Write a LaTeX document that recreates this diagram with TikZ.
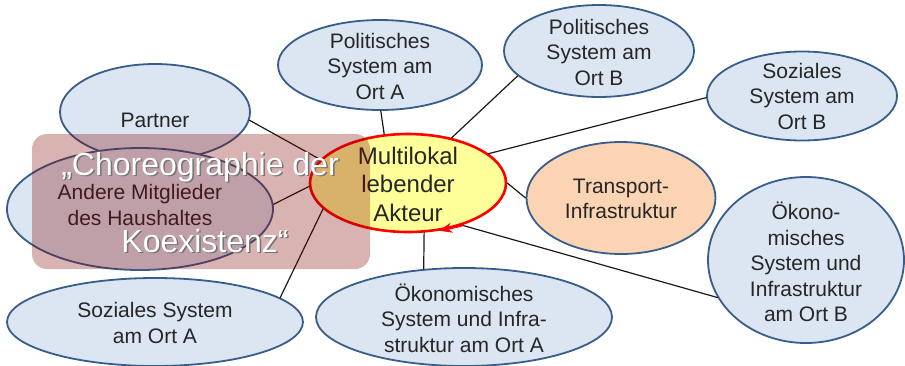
\documentclass[tikz,border=0pt]{standalone}
\usepackage{fontspec}
\setmainfont{Liberation Sans}
\usetikzlibrary{shapes.geometric,arrows.meta}
\definecolor{bubfill}{RGB}{220,230,242}
\definecolor{bubline}{RGB}{56,93,138}
\definecolor{peach}{RGB}{251,212,180}
\definecolor{akteurfill}{RGB}{255,255,153}
\definecolor{veil}{RGB}{128,0,0}
\definecolor{txtgray}{RGB}{38,38,38}
\begin{document}
\begin{tikzpicture}[x=1pt,y=-1pt,line join=round,line cap=round,
    bub/.style={ellipse,draw=bubline,line width=1.8pt,fill=bubfill,inner sep=0pt},
    txt/.style={align=center,text=txtgray,font=\fontsize{21}{25.5}\selectfont},
    link/.style={black!90,line width=1.2pt},
    big/.style={anchor=base,font=\fontsize{32}{38}\selectfont}]
    \useasboundingbox (0,0) rectangle (905,365);
    % Ellipsen
    \node[bub,minimum width=190pt,minimum height=96pt] (partner) at (155,112) {};
    \node[bub,minimum width=266pt,minimum height=122pt] (andere) at (140,209) {};
    \node[bub,minimum width=296pt,minimum height=88pt] (sozA) at (155,322) {};
    \node[bub,minimum width=204pt,minimum height=90pt] (polA) at (380,65) {};
    \node[bub,minimum width=190pt,minimum height=92pt] (polB) at (599,51) {};
    \node[bub,minimum width=190pt,minimum height=89pt] (sozB) at (802,96) {};
    \node[bub,fill=peach,minimum width=189pt,minimum height=112pt] (transport) at (621,198) {};
    \node[bub,minimum width=196pt,minimum height=166pt] (oekB) at (806,260) {};
    \node[bub,minimum width=296pt,minimum height=98pt] (oekA) at (464,317) {};
    \node[ellipse,draw=red,fill=akteurfill,line width=2.6pt,inner sep=0pt,
        minimum width=196pt,minimum height=98pt] (akteur) at (408,183) {};
    % Texte
    \node[txt] (partnerT) at (155,120) {Partner};
    \node[txt] (andereT) at (140,205) {Andere Mitglieder\\des Haushaltes};
    \node[txt] (sozAT) at (155,323) {Soziales System\\am Ort A};
    \node[txt] (polAT) at (380,66) {Politisches\\System am\\Ort A};
    \node[txt] (polBT) at (599,52) {Politisches\\System am\\Ort B};
    \node[txt] (sozBT) at (802,96) {Soziales\\System am\\Ort B};
    \node[txt] (transportT) at (621,199) {Transport-\\Infrastruktur};
    \node[txt] (oekBT) at (806,262) {Ökono-\\misches\\System und\\Infrastruktur\\am Ort B};
    \node[txt] (oekAT) at (464,318) {Ökonomisches\\System und Infra-\\struktur am Ort A};
    \node[txt,font=\fontsize{24}{28.5}\selectfont] (akteurT) at (408,184) {Multilokal\\lebender\\Akteur};
    % Verbindungen
    \draw[link] (akteur.165) -- (partner.-5);
    \draw[link] (akteur.182) -- (andere.2);
    \draw[link] (akteur.197) -- (sozA.11);
    \draw[link] (akteur.116) -- (polA.-89);
    \draw[link] (akteur.46) -- (polB.197);
    \draw[link] (akteur.20) -- (sozB.181);
    \draw[link] (akteur.0) -- (transport.180);
    \draw[link] (akteur.-38) -- (oekB.203);
    \draw[link] (akteur.-72) -- (oekA.130);
    \draw[red,line width=2.6pt,-{Stealth[length=13pt,width=10pt]}] (akteur.-38) -- (akteur.-57);
    % Overlay
    \fill[veil,opacity=0.3,rounded corners=15pt] (32,134) rectangle (370,269);
    \node[big,text=black!55] (chorAs) at (201.5,176.5) {„Choreographie der};
    \node[big,text=black!55] (chorBs) at (206.5,253.5) {Koexistenz“};
    \node[big,text=white] (chorA) at (200,175) {„Choreographie der};
    \node[big,text=white] (chorB) at (205,252) {Koexistenz“};
\end{tikzpicture}
\end{document}
